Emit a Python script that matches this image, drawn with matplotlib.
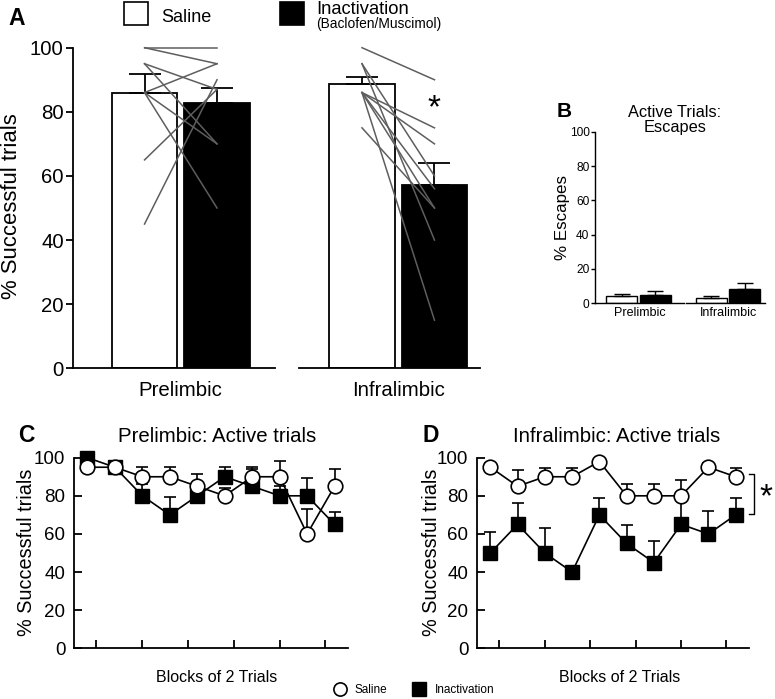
import matplotlib
matplotlib.use("Agg")
import matplotlib.pyplot as plt
from matplotlib.patches import Rectangle
from matplotlib.lines import Line2D
import numpy as np

plt.rcParams['font.family'] = ['Liberation Sans', 'DejaVu Sans']

# --- data ---
regions = ['Prelimbic', 'Infralimbic']

# A: % successful trials (mean, sem)
a_saline = [86.0, 88.7]
a_saline_err = [5.7, 2.3]
a_inact = [82.7, 57.3]
a_inact_err = [4.7, 6.7]

# individual animals
pl_saline_ind = [100, 100, 95, 95, 86, 86, 86, 65, 45]
pl_inact_ind = [100, 95, 87, 70, 95, 70, 50, 87, 90]
il_saline_ind = [100, 95, 95, 86, 86, 86, 86, 86, 75]
il_inact_ind = [90, 60, 40, 75, 70, 56, 50, 15, 50]

# B: % escapes
b_saline = [4.1, 3.3]
b_saline_err = [1.1, 1.0]
b_inact = [4.9, 8.3]
b_inact_err = [2.3, 3.4]

# C / D: blocks of 2 trials
blocks = np.arange(1, 11)
c_saline = [95, 95, 90, 90, 85, 80, 90, 90, 60, 85]
c_saline_err = [3, 3, 5, 5, 6.5, 4, 4, 8.5, 13, 9]
c_inact = [100, 95, 80, 70, 80, 90, 85, 80, 80, 65]
c_inact_err = [2, 3, 6, 9.5, 5, 5, 10, 5, 9.5, 6.5]

d_saline = [95, 85, 90, 90, 98, 80, 80, 80, 95, 90]
d_saline_err = [2, 8.5, 4.5, 4.5, 2, 6, 6, 8.5, 2, 4.5]
d_inact = [50, 65, 50, 40, 70, 55, 45, 65, 60, 70]
d_inact_err = [11, 11, 13, 2, 9, 9.5, 11.5, 15, 12, 9]

W, H = 775, 699
fig = plt.figure(figsize=(W / 100, H / 100), dpi=100)


def px_axes(x0, x1, ytop, ybot):
    return fig.add_axes([x0 / W, 1 - ybot / H, (x1 - x0) / W, (ybot - ytop) / H])


def ftext(x, y, s, **kw):
    fig.text(x / W, 1 - y / H, s, **kw)


# ---------------- A ----------------
axA = px_axes(72.7, 480, 47.7, 368.3)
pos = np.arange(2)
off, bw = 1 / 6, 0.30
axA.bar(pos - off, a_saline, bw, color='white', edgecolor='black', lw=1.3, zorder=2)
axA.bar(pos + off, a_inact, bw, color='black', edgecolor='black', lw=1.3, zorder=2)
axA.errorbar(pos - off, a_saline, yerr=[[0, 0], a_saline_err], fmt='none',
             ecolor='black', elinewidth=1.3, capsize=11.5, capthick=1.3, zorder=3)
axA.errorbar(pos + off, a_inact, yerr=[[0, 0], a_inact_err], fmt='none',
             ecolor='black', elinewidth=1.3, capsize=11.5, capthick=1.3, zorder=3)
for g, (s_ind, i_ind) in enumerate([(pl_saline_ind, pl_inact_ind),
                                     (il_saline_ind, il_inact_ind)]):
    for s, i in zip(s_ind, i_ind):
        axA.plot([g - off, g + off], [s, i], color='#5e5e5e', lw=1.1,
                 zorder=4, clip_on=False)
axA.set_xlim(-0.497, 1.376)
axA.set_ylim(0, 100)
for sp in ['top', 'right', 'bottom']:
    axA.spines[sp].set_visible(False)
axA.spines['left'].set_linewidth(1.3)
axA.plot([-0.497, 0.433], [0, 0], color='black', lw=1.3, clip_on=False)
axA.plot([0.545, 1.376], [0, 0], color='black', lw=1.3, clip_on=False)
axA.set_yticks(range(0, 101, 20))
axA.tick_params(axis='y', direction='out', length=5, width=1.3, pad=1.5, labelsize=14.7)
axA.set_xticks(pos, regions)
axA.tick_params(axis='x', length=0, pad=9.5, labelsize=14.7)
axA.text(1 + off, 81, '*', ha='center', va='center', fontsize=24)
ftext(12, 206, '% Successful trials', rotation=90, ha='center', va='center', fontsize=15.9)

# legend for A
fig.add_artist(Rectangle((124 / W, 1 - 25 / H), 24 / W, 23 / H, transform=fig.transFigure,
                         facecolor='white', edgecolor='black', lw=1.2))
fig.add_artist(Rectangle((280 / W, 1 - 25 / H), 24 / W, 23 / H, transform=fig.transFigure,
                         facecolor='black', edgecolor='black', lw=1.2))
ftext(161, 21.7, 'Saline', ha='left', va='baseline', fontsize=13)
ftext(316, 14, 'Inactivation', ha='left', va='baseline', fontsize=13.2)
ftext(316, 28.3, '(Baclofen/Muscimol)', ha='left', va='baseline', fontsize=9.9)
ftext(8, 25, 'A', ha='left', va='baseline', fontsize=16.5, fontweight='bold')

# ---------------- B ----------------
axB = px_axes(595, 765, 131.7, 303.3)
offb, bwb = 0.187, 0.346
axB.bar(pos - offb, b_saline, bwb, color='white', edgecolor='black', lw=1.0, zorder=2)
axB.bar(pos + offb, b_inact, bwb, color='black', edgecolor='black', lw=1.0, zorder=2)
axB.errorbar(pos - offb, b_saline, yerr=[[0, 0], b_saline_err], fmt='none',
             ecolor='black', elinewidth=1.0, capsize=5.8, capthick=1.0, zorder=3)
axB.errorbar(pos + offb, b_inact, yerr=[[0, 0], b_inact_err], fmt='none',
             ecolor='black', elinewidth=1.0, capsize=5.8, capthick=1.0, zorder=3)
axB.set_xlim(-0.486, 1.413)
axB.set_ylim(0, 100)
for sp in ['top', 'right', 'bottom']:
    axB.spines[sp].set_visible(False)
axB.spines['left'].set_linewidth(1.0)
axB.plot([-0.486, 0.508], [0, 0], color='black', lw=1.0, clip_on=False)
axB.plot([0.527, 1.413], [0, 0], color='black', lw=1.0, clip_on=False)
axB.set_yticks(range(0, 101, 20))
axB.tick_params(axis='y', direction='out', length=3, width=1.0, pad=1, labelsize=8.6)
axB.set_xticks([0.017, 1.0], regions)
axB.tick_params(axis='x', length=0, pad=2.7, labelsize=9)
ftext(563, 217.5, '% Escapes', rotation=90, ha='center', va='center', fontsize=12.2)
ftext(675, 116.7, 'Active Trials:', ha='center', va='baseline', fontsize=11.8)
ftext(675, 131.7, 'Escapes', ha='center', va='baseline', fontsize=11.8)
ftext(557, 116.7, 'B', ha='left', va='baseline', fontsize=15, fontweight='bold')


# ---------------- C & D ----------------
def block_panel(ax, sal, sal_err, ina, ina_err):
    z = np.zeros(len(blocks))
    ax.errorbar(blocks, ina, yerr=[z, ina_err], fmt='none', ecolor='black',
                elinewidth=1.2, capsize=4.3, capthick=1.2, zorder=2)
    ax.errorbar(blocks, sal, yerr=[z, sal_err], fmt='none', ecolor='black',
                elinewidth=1.2, capsize=4.3, capthick=1.2, zorder=2)
    ax.plot(blocks, ina, '-s', color='black', lw=1.2, ms=10.5, mfc='black',
            mec='black', mew=1.0, zorder=3, clip_on=False)
    ax.plot(blocks, sal, '-o', color='black', lw=1.2, ms=10.5, mfc='white',
            mec='black', mew=1.2, zorder=4, clip_on=False)
    ax.set_xlim(0.5, 10.5)
    ax.set_ylim(0, 100)
    for sp in ['top', 'right']:
        ax.spines[sp].set_visible(False)
    for sp in ['left', 'bottom']:
        ax.spines[sp].set_linewidth(1.3)
    ax.set_yticks(range(0, 101, 20))
    ax.set_xticks(1.33 + np.arange(6) * 5 / 3)
    ax.tick_params(axis='y', direction='in', length=6, width=1.3, pad=6, labelsize=13.5)
    ax.tick_params(axis='x', direction='in', length=6, width=1.3, labelbottom=False)


axC = px_axes(73.7, 348.3, 457.7, 648.3)
block_panel(axC, c_saline, c_saline_err, c_inact, c_inact_err)
ftext(217, 442, 'Prelimbic: Active trials', ha='center', va='baseline', fontsize=14.7)
ftext(27, 552, '% Successful trials', rotation=90, ha='center', va='center', fontsize=14.3)
ftext(217, 681.7, 'Blocks of 2 Trials', ha='center', va='baseline', fontsize=11.5)
ftext(18, 442, 'C', ha='left', va='baseline', fontsize=16.5, fontweight='bold')

axD = px_axes(476.7, 749.3, 457.7, 648.3)
block_panel(axD, d_saline, d_saline_err, d_inact, d_inact_err)
ftext(617, 442, 'Infralimbic: Active trials', ha='center', va='baseline', fontsize=14.7)
ftext(432, 552, '% Successful trials', rotation=90, ha='center', va='center', fontsize=14.3)
ftext(620, 681.7, 'Blocks of 2 Trials', ha='center', va='baseline', fontsize=11.5)
ftext(422, 442, 'D', ha='left', va='baseline', fontsize=16.5, fontweight='bold')

# significance bracket on D
yb0, yb1 = d_inact[-1] + 0.5, d_saline[-1] + 1.5
axD.plot([10.49, 10.67, 10.67, 10.49], [yb1, yb1, yb0, yb0], color='black',
         lw=1.0, clip_on=False)
axD.text(11.1, (yb0 + yb1) / 2 - 2, '*', ha='center', va='center', fontsize=24)

# bottom legend
handles = [Line2D([], [], ls='none', marker='o', ms=9.5, mfc='white', mec='black', mew=1.2),
           Line2D([], [], ls='none', marker='s', ms=9.5, mfc='black', mec='black')]
fig.legend(handles, ['Saline', 'Inactivation'], loc='center', ncol=2,
           bbox_to_anchor=(414 / W, 1 - 690 / H), frameon=False, fontsize=8.5,
           handlelength=1.0, handletextpad=0.8, columnspacing=2.2, borderpad=0)

fig.savefig('out.png', dpi=100)
